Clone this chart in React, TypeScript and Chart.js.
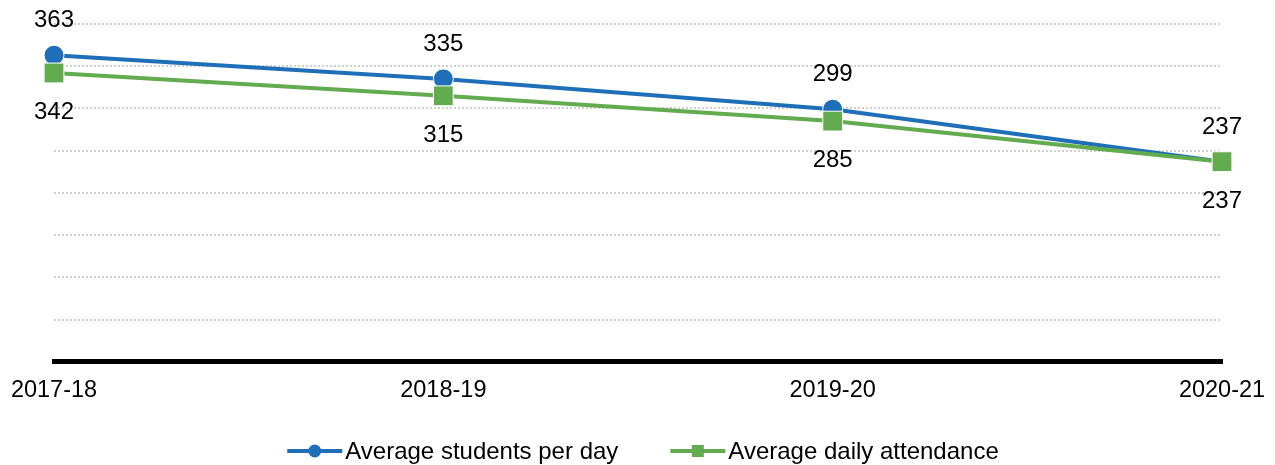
import React, { useEffect, useRef } from "react";
import { Chart, registerables } from "chart.js";

Chart.register(...registerables);

const categories = ["2017-18", "2018-19", "2019-20", "2020-21"];
const studentsPerDay = [363, 335, 299, 237];
const dailyAttendance = [342, 315, 285, 237];
const seriesNames = ["Average students per day", "Average daily attendance"];
const yTicksMax = 400;
const yTickStep = 50;

const BLUE = "#1F6FB8";
const GREEN = "#62AB4E";
const FONT = "'Liberation Sans', Arial, Helvetica, sans-serif";

const dataLabelPlugin = {
  id: "dataLabels",
  afterDatasetsDraw(chart: any) {
    const ctx = chart.ctx;
    ctx.save();
    ctx.font = `24px ${FONT}`;
    ctx.fillStyle = "#000";
    ctx.textAlign = "center";
    ctx.textBaseline = "middle";
    chart.data.datasets.forEach((ds: any, di: number) => {
      const meta = chart.getDatasetMeta(di);
      meta.data.forEach((pt: any, i: number) => {
        const off = di === 0 ? -34.5 : 39.5;
        ctx.fillText(String(ds.data[i]), pt.x, pt.y + off);
      });
    });
    ctx.restore();
  },
};

const legendPlugin = {
  id: "lineLegend",
  afterDraw(chart: any) {
    const ctx = chart.ctx;
    const iconW = 55;
    const gap = 3;
    const itemGap = 52;
    const cy = 451;
    ctx.save();
    ctx.font = `24px ${FONT}`;
    const items = chart.data.datasets.map((ds: any) => ({
      text: ds.label,
      color: ds.borderColor,
      shape: ds.pointStyle,
      w: ctx.measureText(ds.label).width,
    }));
    const total =
      items.reduce((s: number, it: any) => s + iconW + gap + it.w, 0) + itemGap * (items.length - 1);
    let x = chart.width / 2 + 5.5 - total / 2;
    items.forEach((it: any) => {
      ctx.strokeStyle = it.color;
      ctx.lineWidth = 4;
      ctx.beginPath();
      ctx.moveTo(x, cy);
      ctx.lineTo(x + iconW, cy);
      ctx.stroke();
      ctx.fillStyle = it.color;
      const mx = x + iconW / 2;
      if (it.shape === "circle") {
        ctx.beginPath();
        ctx.arc(mx, cy, 6.5, 0, Math.PI * 2);
        ctx.fill();
      } else {
        ctx.fillRect(mx - 6, cy - 6, 12, 12);
      }
      ctx.fillStyle = "#000";
      ctx.textAlign = "left";
      ctx.textBaseline = "middle";
      ctx.fillText(it.text, x + iconW + gap, cy + 1);
      x += iconW + gap + it.w + itemGap;
    });
    ctx.restore();
  },
};

export default function App() {
  const ref = useRef<HTMLCanvasElement>(null);
  useEffect(() => {
    const chart = new Chart(ref.current!, {
      type: "line",
      data: {
        labels: categories,
        datasets: [
          {
            label: seriesNames[0],
            data: studentsPerDay,
            borderColor: BLUE,
            backgroundColor: BLUE,
            borderWidth: 4,
            pointStyle: "circle",
            pointRadius: 10,
            pointHoverRadius: 10,
            pointBackgroundColor: BLUE,
            pointBorderColor: "#fff",
            pointBorderWidth: 1,
            tension: 0,
            order: 1,
          },
          {
            label: seriesNames[1],
            data: dailyAttendance,
            borderColor: GREEN,
            backgroundColor: GREEN,
            borderWidth: 4,
            pointStyle: "rect",
            pointRadius: 14,
            pointHoverRadius: 14,
            pointBackgroundColor: GREEN,
            pointBorderColor: "#fff",
            pointBorderWidth: 1,
            tension: 0,
            order: 0,
          },
        ],
      },
      options: {
        animation: false,
        responsive: true,
        maintainAspectRatio: false,
        layout: { padding: { left: 54, right: 53, top: 24, bottom: 45 } },
        scales: {
          x: {
            type: "category",
            offset: false,
            grid: { display: false, drawTicks: false },
            border: { display: true, color: "#000", width: 5 },
            ticks: {
              color: "#000",
              font: { size: 23.5, family: FONT },
              padding: 15,
              maxRotation: 0,
              autoSkip: false,
            },
            afterFit: (s: any) => {
              s.paddingLeft = 0;
              s.paddingRight = 0;
            },
          },
          y: {
            min: 0,
            max: yTicksMax,
            ticks: { display: false, stepSize: yTickStep },
            grid: {
              drawTicks: false,
              lineWidth: 2,
              color: (c: any) => (c.tick && c.tick.value === 0 ? "rgba(0,0,0,0)" : "#cfcfcf"),
            },
            border: { display: false, dash: [2, 2] },
            afterFit: (s: any) => {
              s.width = 0;
            },
          },
        },
        plugins: {
          tooltip: { enabled: false },
          legend: { display: false },
        },
      },
      plugins: [dataLabelPlugin, legendPlugin],
    });
    return () => chart.destroy();
  }, []);
  return (
    <div style={{ position: "fixed", left: 0, top: 0, width: 1275, height: 465, background: "#fff" }}>
      <canvas ref={ref} />
    </div>
  );
}
